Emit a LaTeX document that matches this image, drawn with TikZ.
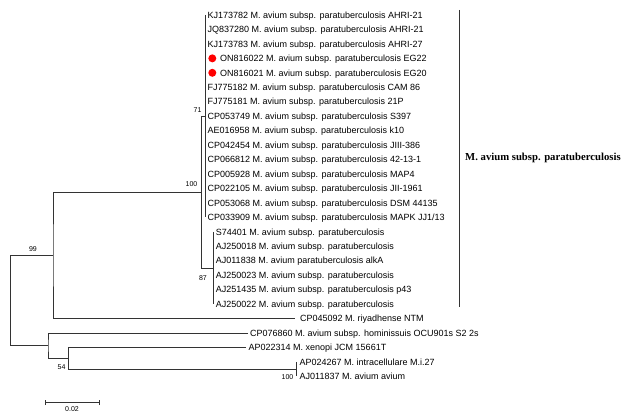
\documentclass[tikz,border=0pt]{standalone}
\usepackage{fontspec}
\setmainfont{Liberation Sans}
\newfontfamily\cladefont{Liberation Serif}
\definecolor{treeline}{HTML}{333333}
\begin{document}
\begin{tikzpicture}[x=1pt,y=-1pt,
  leaf/.style={anchor=west, inner sep=0pt, font=\fontsize{9}{10}\selectfont, text height=6.5pt, text depth=0pt},
  boot/.style={inner sep=0pt, font=\fontsize{7}{8}\selectfont},
  branch/.style={draw=treeline, line width=0.7pt},
  reddot/.style={circle, fill=red, inner sep=0pt, minimum size=8pt}]
\useasboundingbox (0,0) rectangle (621,412);
% leaf labels
\node[leaf] (l0) at (207.5,15) {KJ173782 M. avium subsp. paratuberculosis AHRI-21};
\node[leaf] (l1) at (207.5,29.45) {JQ837280 M. avium subsp. paratuberculosis AHRI-21};
\node[leaf] (l2) at (207.5,43.9) {KJ173783 M. avium subsp. paratuberculosis AHRI-27};
\node[reddot] (d3) at (212.3,58.35) {};
\node[leaf] (l3) at (220,58.35) {ON816022 M. avium subsp. paratuberculosis EG22};
\node[reddot] (d4) at (212.3,72.8) {};
\node[leaf] (l4) at (220,72.8) {ON816021 M. avium subsp. paratuberculosis EG20};
\node[leaf] (l5) at (207.5,87.25) {FJ775182 M. avium subsp. paratuberculosis CAM 86};
\node[leaf] (l6) at (207.5,101.7) {FJ775181 M. avium subsp. paratuberculosis 21P};
\node[leaf] (l7) at (207.5,116.15) {CP053749 M. avium subsp. paratuberculosis S397};
\node[leaf] (l8) at (207.5,130.6) {AE016958 M. avium subsp. paratuberculosis k10};
\node[leaf] (l9) at (207.5,145.05) {CP042454 M. avium subsp. paratuberculosis JIII-386};
\node[leaf] (l10) at (207.5,159.5) {CP066812 M. avium subsp. paratuberculosis 42-13-1};
\node[leaf] (l11) at (207.5,173.95) {CP005928 M. avium subsp. paratuberculosis MAP4};
\node[leaf] (l12) at (207.5,188.4) {CP022105 M. avium subsp. paratuberculosis JII-1961};
\node[leaf] (l13) at (207.5,202.85) {CP053068 M. avium subsp. paratuberculosis DSM 44135};
\node[leaf] (l14) at (207.5,217.3) {CP033909 M. avium subsp. paratuberculosis MAPK JJ1/13};
\node[leaf] (l15) at (215.7,231.75) {S74401 M. avium subsp. paratuberculosis};
\node[leaf] (l16) at (215.7,246.2) {AJ250018 M. avium subsp. paratuberculosis};
\node[leaf] (l17) at (215.7,260.65) {AJ011838 M. avium paratuberculosis alkA};
\node[leaf] (l18) at (215.7,275.1) {AJ250023 M. avium subsp. paratuberculosis};
\node[leaf] (l19) at (215.7,289.55) {AJ251435 M. avium subsp. paratuberculosis p43};
\node[leaf] (l20) at (215.7,304) {AJ250022 M. avium subsp. paratuberculosis};
\node[leaf] (l21) at (300,318.45) {CP045092 M. riyadhense NTM};
\node[leaf] (l22) at (250,332.9) {CP076860 M. avium subsp. hominissuis OCU901s S2 2s};
\node[leaf] (l23) at (248.5,347.35) {AP022314 M. xenopi JCM 15661T};
\node[leaf] (l24) at (299.5,361.8) {AP024267 M. intracellulare M.i.27};
\node[leaf] (l25) at (299.5,376.25) {AJ011837 M. avium avium};
% tree coordinates
\coordinate (t0) at (205.5,15);
\coordinate (t14) at (205.5,217.3);
\coordinate (n71) at (205.5,116.15);
\coordinate (t15) at (213.5,231.75);
\coordinate (t20) at (213.5,304);
\coordinate (n87) at (213.5,267.9);
\coordinate (n100) at (201.5,192.0);
\coordinate (n99) at (53,255.2);
\coordinate (t21) at (295,318.45);
\coordinate (root) at (10.7,300.4);
\coordinate (n48) at (48,345.55);
\coordinate (t22) at (248,332.9);
\coordinate (n54) at (68.3,358.2);
\coordinate (t23) at (246,347.35);
\coordinate (nb) at (296,369.0);
\coordinate (t24) at (296,361.8);
\coordinate (t25) at (296,376.25);
% branches
\draw[branch] (t0) -- (t14);
\draw[branch] (t15) -- (t20);
\draw[branch] (n71) -| (n100) |- (n87);
\draw[branch] (n100) -| (n99) |- (t21);
\draw[branch] (n99) -| (root) |- (n48);
\draw[branch] (t22) -| (n48) |- (n54);
\draw[branch] (t23) -| (n54) |- (nb);
\draw[branch] (t24) -- (t25);
% bootstrap values
\node[boot, anchor=base east] (b71) at (201.7,112.5) {71};
\node[boot, anchor=base east] (b100a) at (197.5,186) {100};
\node[boot, anchor=base east] (b87) at (207,280.5) {87};
\node[boot, anchor=base] (b99) at (33,251.5) {99};
\node[boot, anchor=base east] (b54) at (65.7,369.5) {54};
\node[boot, anchor=base east] (b100b) at (293.5,379.5) {100};
% clade bar
\coordinate (cb1) at (459,10);
\coordinate (cb2) at (459,307);
\draw[branch] (cb1) -- (cb2);
\node[anchor=west, inner sep=0pt, font=\cladefont\bfseries\fontsize{10.7}{12}\selectfont] (clade) at (465,158) {M. avium subsp. paratuberculosis};
% scale bar
\coordinate (s1) at (45,402.7);
\coordinate (s2) at (99,402.7);
\draw[branch] (s1) -- (s2);
\draw[branch] ([yshift=-2.5pt]s1) -- ([yshift=2.5pt]s1);
\draw[branch] ([yshift=-2.5pt]s2) -- ([yshift=2.5pt]s2);
\node[boot, anchor=base] (scale) at (72,411.5) {0.02};
\end{tikzpicture}
\end{document}
